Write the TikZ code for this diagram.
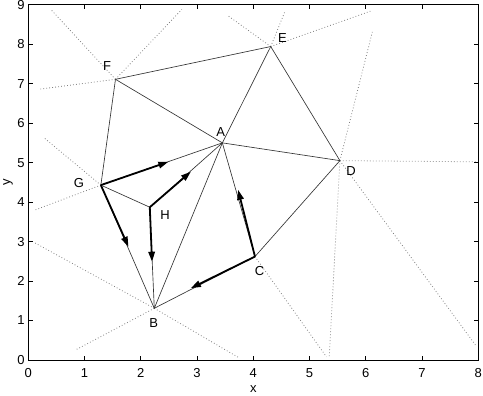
\documentclass[tikz,border=0pt]{standalone}
\usepackage{fontspec}
\setmainfont{Liberation Sans}
\usetikzlibrary{arrows.meta}
\begin{document}
\begin{tikzpicture}[
    x={(56.25pt,0pt)},
    y={(0pt,39.48pt)},
    edge/.style={black!80, line width=0.65pt},
    ray/.style={black!50, line width=0.8pt, dash pattern=on 0.8pt off 2.2pt},
    flux/.style={black, line width=1.8pt, -{Triangle[length=10pt,width=6.5pt]}},
    lbl/.style={inner sep=0pt, font=\fontsize{13}{15}\selectfont},
]

% Frame of the plot
\useasboundingbox (-0.503,-0.887) rectangle (8.084,9.119);

% Points of the mesh
\coordinate (A) at (3.45,5.50);
\coordinate (B) at (2.24,1.31);
\coordinate (C) at (4.03,2.62);
\coordinate (D) at (5.54,5.05);
\coordinate (E) at (4.31,7.94);
\coordinate (F) at (1.55,7.11);
\coordinate (G) at (1.29,4.43);
\coordinate (H) at (2.16,3.87);

% Free ends of the dotted rays
\coordinate (F1) at (0.40,8.88);
\coordinate (F2) at (0.20,6.86);
\coordinate (F3) at (2.73,8.88);
\coordinate (E1) at (3.56,8.71);
\coordinate (E2) at (4.56,8.82);
\coordinate (E3) at (6.09,8.84);
\coordinate (D1) at (6.12,8.33);
\coordinate (D2) at (7.97,5.02);
\coordinate (D3) at (7.97,0.34);
\coordinate (D4) at (5.35,0.08);
\coordinate (C1) at (5.30,0.08);
\coordinate (B1) at (0.86,0.27);
\coordinate (B2) at (3.73,0.07);
\coordinate (B3) at (0.10,2.98);
\coordinate (G1) at (0.27,5.64);
\coordinate (G2) at (0.12,3.80);

% Dotted rays
\draw[ray] (F) -- (F1);
\draw[ray] (F) -- (F2);
\draw[ray] (F) -- (F3);
\draw[ray] (E) -- (E1);
\draw[ray] (E) -- (E2);
\draw[ray] (E) -- (E3);
\draw[ray] (D) -- (D1);
\draw[ray] (D) -- (D2);
\draw[ray] (D) -- (D3);
\draw[ray] (D) -- (D4);
\draw[ray] (C) -- (C1);
\draw[ray] (B) -- (B1);
\draw[ray] (B) -- (B2);
\draw[ray] (B) -- (B3);
\draw[ray] (G) -- (G1);
\draw[ray] (G) -- (G2);

% Triangle edges
\draw[edge] (F) -- (E);
\draw[edge] (F) -- (A);
\draw[edge] (F) -- (G);
\draw[edge] (E) -- (A);
\draw[edge] (E) -- (D);
\draw[edge] (A) -- (D);
\draw[edge] (D) -- (C);
\draw[edge] (A) -- (C);
\draw[edge] (A) -- (B);
\draw[edge] (A) -- (G);
\draw[edge] (A) -- (H);
\draw[edge] (G) -- (H);
\draw[edge] (H) -- (B);
\draw[edge] (G) -- (B);
\draw[edge] (B) -- (C);

% Arrow tips
\coordinate (GA) at (2.49,5.02);
\coordinate (GB) at (1.78,2.87);
\coordinate (HA) at (2.89,4.77);
\coordinate (HB) at (2.20,2.49);
\coordinate (CA) at (3.73,4.31);
\coordinate (CB) at (2.89,1.82);

% Thick arrows
\draw[flux] (G) -- (GA);
\draw[flux] (G) -- (GB);
\draw[flux] (H) -- (HA);
\draw[flux] (H) -- (HB);
\draw[flux] (C) -- (CA);
\draw[flux] (C) -- (CB);

% Point labels
\node[lbl] (lA) at (3.42,5.78) {A};
\node[lbl] (lB) at (2.23,0.94) {B};
\node[lbl] (lC) at (4.11,2.26) {C};
\node[lbl] (lD) at (5.74,4.79) {D};
\node[lbl] (lE) at (4.52,8.15) {E};
\node[lbl] (lF) at (1.40,7.45) {F};
\node[lbl] (lG) at (0.90,4.49) {G};
\node[lbl] (lH) at (2.43,3.66) {H};

% Axes box with ticks
\draw[black, line width=0.8pt] (0,0) rectangle (8,9);
\foreach \i in {0,...,8} {
    \draw[black, line width=0.6pt] (\i,0) -- ++(0,4.5pt);
    \draw[black, line width=0.6pt] (\i,9) -- ++(0,-4.5pt);
    \node[lbl] (xt\i) at (\i,-0.32) {\i};
}
\foreach \j in {0,...,9} {
    \draw[black, line width=0.6pt] (0,\j) -- ++(4.5pt,0);
    \draw[black, line width=0.6pt] (8,\j) -- ++(-4.5pt,0);
    \node[lbl, anchor=east] (yt\j) at (-0.06,\j) {\j};
}

% Axis names
\node[lbl] (xname) at (4.0,-0.735) {x};
\node[lbl, rotate=90] (yname) at (-0.36,4.50) {y};

\end{tikzpicture}
\end{document}
